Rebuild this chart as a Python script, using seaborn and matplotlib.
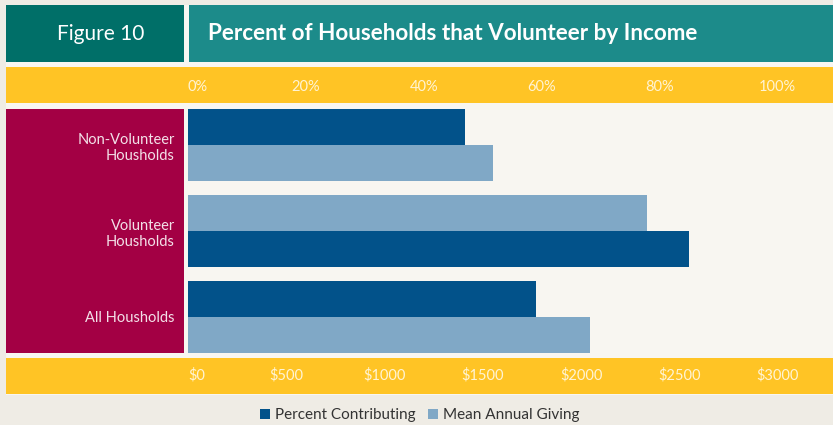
import numpy as np
import pandas as pd
import matplotlib.pyplot as plt
from matplotlib.patches import Rectangle
import seaborn as sns

sns.set_theme(style="white")
plt.rcParams['font.family'] = ['Lato', 'DejaVu Sans']

# data
groups = ["Non-Volunteer\nHousholds", "Volunteer\nHousholds", "All Housholds"]
series = ["Percent Contributing", "Mean Annual Giving"]
pct_contributing = [47, 85, 59]        # percent
mean_giving = [1550, 2335, 2045]       # dollars
dark_on_top = [True, False, True]      # which bar sits on top in each group

pct_ticks = [0, 20, 40, 60, 80, 100]
pct_labels = ["0%", "20%", "40%", "60%", "80%", "100%"]
dollar_ticks = [0, 500, 1000, 1500, 2000, 2500, 3000]
dollar_labels = [r"\$0", r"\$500", r"\$1000", r"\$1500", r"\$2000", r"\$2500", r"\$3000"]

W, H = 833, 425
DARK, LIGHT = "#02528A", "#80A8C6"
YELLOW = "#FFC425"
MAROON = "#A30044"


def box(fig, x0, y0, x1, y1, color, z=-1):
    fig.patches.append(Rectangle((x0 / W, 1 - y1 / H), (x1 - x0) / W, (y1 - y0) / H,
                                 transform=fig.transFigure, facecolor=color,
                                 edgecolor='none', zorder=z))


def main():
    pitch = 86 / 36
    rows = []
    for i, g in enumerate(groups):
        top = i * pitch + 0.5
        bot = top + 1
        y_pct, y_giv = (top, bot) if dark_on_top[i] else (bot, top)
        rows.append({"group": g, "series": series[0],
                     "value": pct_contributing[i] / 100, "y": y_pct})
        rows.append({"group": g, "series": series[1],
                     "value": mean_giving[i] / 3000, "y": y_giv})
    df = pd.DataFrame(rows)

    fig = plt.figure(figsize=(W / 100, H / 100), dpi=100)
    fig.patch.set_facecolor("#EFECE5")
    box(fig, 6, 5, 833, 395, "#F8F6F1", z=-2)
    box(fig, 6, 5, 184, 62, "#006F68")
    box(fig, 189, 5, 833, 62, "#1C8B8A")
    box(fig, 6, 67, 833, 102.5, YELLOW)
    box(fig, 6, 358, 833, 393.5, YELLOW)
    box(fig, 6, 109, 184, 353, MAROON)

    ax = fig.add_axes([188 / W, (H - 353) / H, (W - 188) / W, (353 - 109) / H])
    sns.barplot(data=df, x="value", y="y", hue="series", hue_order=series,
                palette=[DARK, LIGHT], orient="y", native_scale=True,
                dodge=False, width=1, saturation=1, errorbar=None,
                linewidth=0, ax=ax)
    leg = ax.get_legend()
    handles = leg.legend_handles
    labels = [t.get_text() for t in leg.texts]
    leg.remove()

    ax.set_facecolor("#F8F6F1")
    ax.set_xlim(0, (W - 187.8) / 589.9)
    ax.set_ylim(2 * pitch + 2, 0)
    for s in ax.spines.values():
        s.set_visible(False)
    ax.set_xlabel("")
    ax.set_ylabel("")

    ax.set_yticks([i * pitch + 1 for i in range(len(groups))], labels=groups)
    ax.tick_params(axis='y', length=0, pad=9.5, labelsize=10.5, labelcolor="#F3E0E8")

    ax.set_xticks(np.array(dollar_ticks) / 3000, labels=dollar_labels)
    ax.tick_params(axis='x', length=0, pad=10.5, labelsize=10.5, labelcolor="#FFF4D4")
    ax.get_xticklabels()[0].set_ha('left')

    top = ax.secondary_xaxis('top')
    top.set_xticks(np.array(pct_ticks) / 100, labels=pct_labels)
    top.tick_params(axis='x', length=0, pad=10.5, labelsize=10.5, labelcolor="#FFF4D4")
    top.spines['top'].set_visible(False)
    top.get_xticklabels()[0].set_ha('left')

    fig.text(100.5 / W, 1 - 40 / H, "Figure 10", ha='center', va='baseline',
             fontsize=15, color='white')
    fig.text(208 / W, 1 - 40 / H, "Percent of Households that Volunteer by Income",
             ha='left', va='baseline', fontsize=16.2, fontweight='bold', color='white')

    fig.legend(handles, labels, loc='center', bbox_to_anchor=(420 / W, 1 - 415.5 / H),
               ncol=2, frameon=False, fontsize=11, handlelength=0.65,
               handleheight=0.65, handletextpad=0.35, columnspacing=0.8,
               labelcolor="#333333")

    fig.savefig("out.png", dpi=100, facecolor=fig.get_facecolor())


if __name__ == '__main__':
    main()
